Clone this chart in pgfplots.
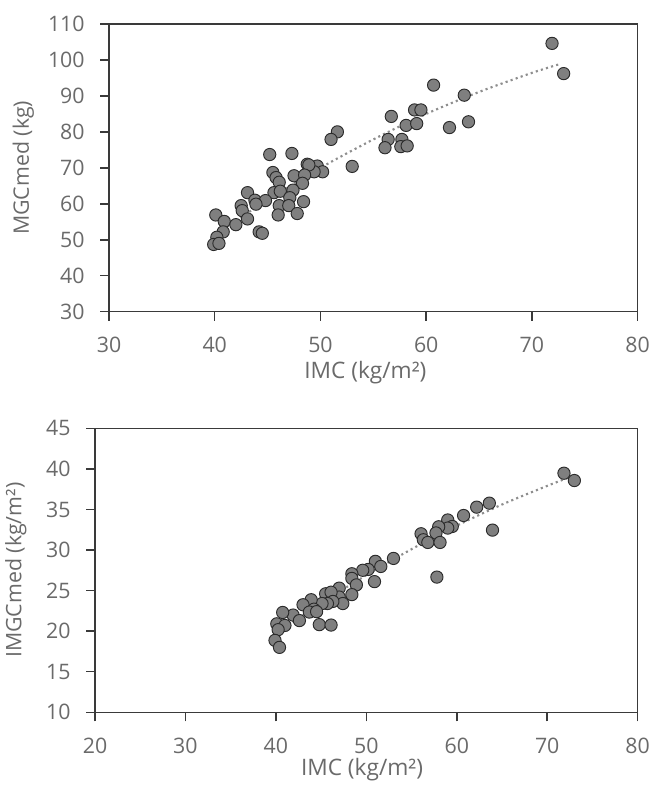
\documentclass[border=0pt]{standalone}
\usepackage{fontspec}
\setmainfont{Open Sans}
\usepackage{pgfplots}
\pgfplotsset{compat=1.18}

\definecolor{txt}{HTML}{6A6A6A}
\definecolor{axln}{HTML}{3A3A3A}
\definecolor{ptfill}{HTML}{7F7F7F}
\definecolor{ptedge}{HTML}{2B2B2B}
\definecolor{trend}{HTML}{8E8E8E}

\pgfplotsset{
  panel/.style={
    scale only axis,
    axis line style={axln, line width=1.1pt},
    tick style={axln, line width=1.1pt},
    major tick length=6.75pt,
    tick align=outside,
    xtick pos=lower, ytick pos=left,
    /pgf/number format/assume math mode=true,
    ticklabel style={font=\fontsize{16}{19}\selectfont, text=txt},
    label style={font=\fontsize{16}{19}\selectfont, text=txt},
    xlabel style={font=\fontsize{17}{20}\selectfont},
    xticklabel style={yshift=-9pt},
    yticklabel style={xshift=-8pt},
  },
  pts/.style={only marks, mark=*, mark size=4.6pt,
    mark options={fill=ptfill, draw=ptedge, line width=0.7pt}},
  trendline/.style={trend, line width=1.6pt, dash pattern=on 1.6pt off 2.4pt, smooth},
}

\begin{document}
\begin{tikzpicture}
\useasboundingbox (0,0) rectangle (492pt,-598.5pt);

% upper panel: MGCmed vs IMC
\begin{axis}[panel,
  at={(81.75pt,-233.78pt)}, anchor=south west,
  width=396.5pt, height=215.8pt,
  xmin=30, xmax=80, ymin=30, ymax=110,
  xtick={30,40,...,80}, ytick={30,40,...,110},
  xlabel={IMC (kg/m²)}, ylabel={MGCmed (kg)},
  xlabel style={at={(axis description cs:0.485,-0.21)}, anchor=center},
  ylabel style={at={(axis description cs:-0.162,0.5)}, anchor=center, rotate=0},
]
\addplot[trendline] coordinates {
  (39.9,51.2) (45,61.1) (50,70.0) (55,77.9) (60,85.0) (65,91.1) (70,96.4) (72.7,98.9)
};
\addplot[pts] coordinates {
  (71.9,104.6) (73.0,96.2) (60.7,93.0) (63.6,90.2) (58.9,86.1) (59.5,86.1)
  (56.7,84.3) (58.1,81.8) (59.1,82.3) (62.2,81.2) (64.0,82.8) (51.6,80.0)
  (51.0,77.9) (56.4,77.9) (56.1,75.6) (57.7,77.9) (57.6,75.9) (58.2,76.1)
  (45.2,73.7) (47.3,74.0) (53.0,70.4) (48.75,71.0) (49.7,70.5) (50.2,68.9)
  (49.4,68.9) (48.9,70.8) (45.5,68.7) (45.8,67.3) (47.5,67.8) (48.5,68.0)
  (46.1,66.0) (48.3,65.7) (47.4,63.8) (45.6,63.1) (46.2,63.5) (43.1,63.1)
  (47.1,61.7) (43.8,61.0) (44.8,60.9) (43.9,59.9) (48.4,60.6) (42.5,59.5)
  (42.6,58.1) (46.1,59.5) (47.0,59.5) (43.1,55.8) (46.0,56.9) (47.8,57.3)
  (40.1,56.9) (40.9,55.1) (42.0,54.2) (40.8,52.2) (44.2,52.2) (44.5,51.8)
  (40.2,50.7) (39.9,48.7) (40.4,49.0)
};
\end{axis}

% lower panel: IMGCmed vs IMC
\begin{axis}[panel,
  at={(71.25pt,-534.2pt)}, anchor=south west,
  width=407pt, height=213pt,
  xmin=20, xmax=80, ymin=10, ymax=45,
  xtick={20,30,...,80}, ytick={10,15,...,45},
  xlabel={IMC (kg/m²)}, ylabel={IMGCmed (kg/m²)},
  xlabel style={at={(axis description cs:0.492,-0.203)}, anchor=center},
  ylabel style={at={(axis description cs:-0.146,0.5)}, anchor=center, rotate=0},
]
\addplot[trendline] coordinates {
  (39.9,19.6) (45,23.45) (50,26.9) (55,30.1) (60,33.0) (65,35.6) (70,37.9) (73.0,39.2)
};
\addplot[pts] coordinates {
  (71.85,39.46) (73.0,38.56) (63.6,35.77) (62.2,35.28) (60.75,34.25) (63.95,32.45)
  (59.0,33.7) (59.5,32.9) (59.0,32.7) (58.0,32.86) (57.7,32.1) (56.05,32.0)
  (56.3,31.26) (56.8,30.93) (58.15,30.93) (53.0,28.96) (51.0,28.6) (51.6,27.97)
  (50.2,27.6) (49.6,27.5) (48.4,27.07) (48.4,26.5) (48.9,25.7) (50.9,26.1)
  (57.8,26.66) (47.0,25.3) (48.4,24.5) (47.0,24.2) (47.4,23.4) (45.5,24.6)
  (46.1,24.8) (46.3,23.66) (45.7,23.4) (45.1,23.4) (43.9,23.87) (43.0,23.25)
  (44.2,22.7) (43.7,22.35) (44.5,22.4) (41.9,21.98) (42.6,21.3) (40.75,22.3)
  (40.1,20.9) (41.0,20.7) (40.25,20.18) (44.8,20.8) (46.1,20.75) (39.9,18.86)
  (40.4,18.0)
};
\end{axis}
\end{tikzpicture}
\end{document}
